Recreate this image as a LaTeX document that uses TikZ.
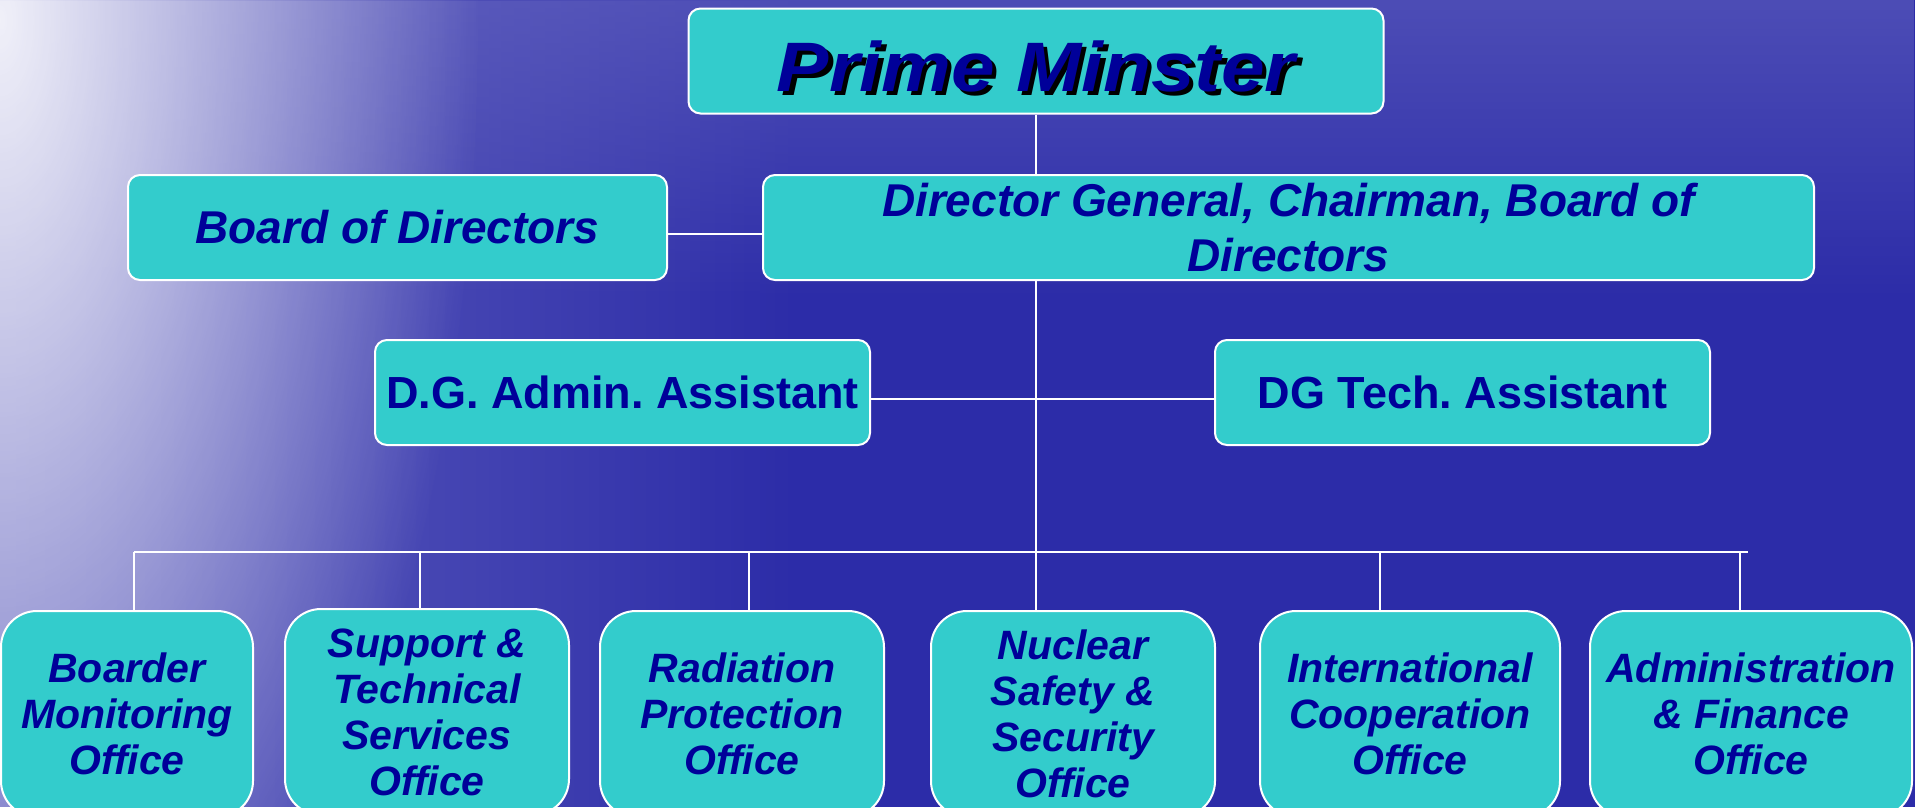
\documentclass[tikz,border=0pt]{standalone}
\usepackage{fontspec}
\setmainfont{Liberation Sans}
\usetikzlibrary{fadings}

\definecolor{seablue}{RGB}{44,44,168}
\definecolor{seamid}{RGB}{110,110,196}
\definecolor{boxcyan}{RGB}{51,204,204}
\definecolor{inkblue}{RGB}{0,0,153}

\tikzfading[name=glowfade, inner color=transparent!0, outer color=transparent!100]

% title text with a dropped shadow
\newcommand{\shadowtext}[1]{\scalebox{1.12}[1]{\makebox[0pt][l]{\kern4pt\smash{\raisebox{-4pt}{\color{black}#1}}}#1}}

\tikzset{
  chart/.style={draw=white, line width=2pt, fill=boxcyan, rounded corners=12pt,
    text=inkblue, align=center, inner sep=0pt,
    font=\fontsize{46}{55}\selectfont\bfseries\itshape},
  office/.style={chart, rounded corners=36pt, minimum height=206pt,
    font=\fontsize{41}{46}\selectfont\bfseries\itshape},
  link/.style={draw=white, line width=2pt}
}

\begin{document}
\frenchspacing
\begin{tikzpicture}[x=1pt,y=-1pt]
	\useasboundingbox (0,0) rectangle (1915,807);
	\clip (0,0) rectangle (1915,807);
	% sea background
	\fill[seablue] (0,0) rectangle (1915,807);
	\fill[seamid, opacity=.85, path fading=east] (0,0) rectangle (800,807);
	\fill[seamid, opacity=.5, path fading=south] (0,0) rectangle (1915,300);
	\fill[white, opacity=.9, path fading=glowfade] (0,20) ellipse (480 and 1100);

	\node[chart, minimum width=695pt, minimum height=105pt, text height=60pt, text depth=0pt,
		font=\fontsize{70}{80}\selectfont\bfseries\itshape] (pm) at (1036,61) {\shadowtext{Prime Minster}};
	\node[chart, minimum width=539pt, minimum height=105pt] (bod) at (397.5,227.5) {Board of Directors};
	\node[chart, minimum width=1051pt, minimum height=105pt] (dg) at (1288.5,227.5) {Director General, Chairman, Board of\\Directors};
	\node[chart, minimum width=495pt, minimum height=105pt, font=\fontsize{45}{55}\selectfont\bfseries] (adm) at (622.5,392.5) {D.G. Admin. Assistant};
	\node[chart, minimum width=495pt, minimum height=105pt, font=\fontsize{45}{55}\selectfont\bfseries] (tech) at (1462.5,392.5) {DG Tech. Assistant};

	\node[office, minimum width=252pt] (o1) at (127,714) {Boarder\\Monitoring\\Office};
	\node[office, minimum width=284pt] (o2) at (427,712) {Support \&\\Technical\\Services\\Office};
	\node[office, minimum width=284pt] (o3) at (742,714) {Radiation\\Protection\\Office};
	\node[office, minimum width=284pt] (o4) at (1073,714) {Nuclear\\Safety \&\\Security\\Office};
	\node[office, minimum width=300pt] (o5) at (1410,714) {International\\Cooperation\\Office};
	\node[office, minimum width=322pt] (o6) at (1751,714) {Administration\\\& Finance\\Office};

	\coordinate (hub) at (1036,552);
	\coordinate (bus1) at (134,552);
	\coordinate (bus2) at (420,552);
	\coordinate (bus3) at (749,552);
	\coordinate (bus4) at (1036,552);
	\coordinate (bus5) at (1380,552);
	\coordinate (bus6) at (1740,552);
	\coordinate (busend) at (1748,552);

	\draw[link] (pm.south) -- (pm.south |- dg.north);
	\draw[link] ([yshift=-6pt]bod.east) -- ([yshift=-6pt]dg.west);
	\draw[link] (hub |- dg.south) -- (hub);
	\draw[link] ([yshift=-6pt]adm.east) -- ([yshift=-6pt]tech.west);
	\draw[link] (bus1) -- (busend);
	\foreach \i in {1,...,6}
		\draw[link] (bus\i) -- (bus\i |- o\i.north);
\end{tikzpicture}
\end{document}
